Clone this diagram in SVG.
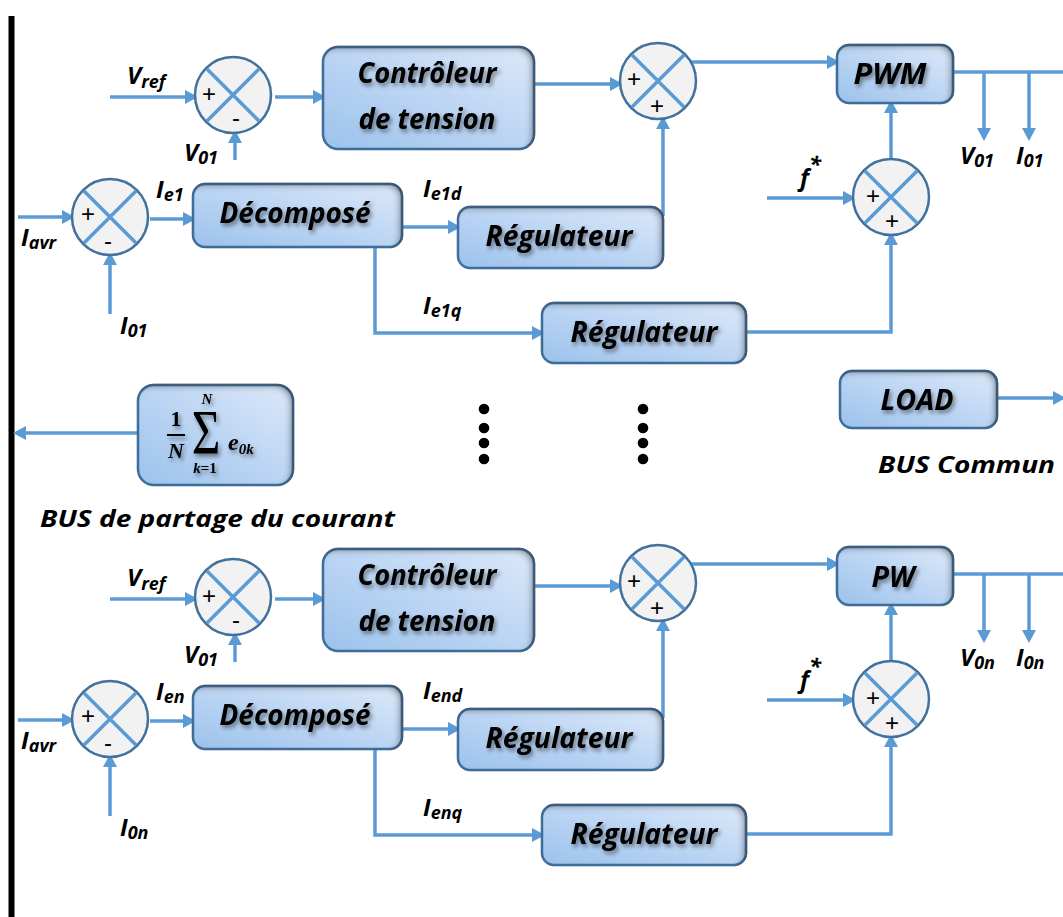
<svg xmlns="http://www.w3.org/2000/svg" xmlns:xlink="http://www.w3.org/1999/xlink" width="1063" height="917" viewBox="0 0 1063 917">
  <style>
    .wire { fill: none; stroke: #5b9bd5; stroke-width: 3.5; }
    .arr { marker-end: url(#head); }
    .blk { fill: url(#blkFill); stroke: #41719c; stroke-width: 2.5; filter: url(#inner); }
    .btxt { font-family: "Open Sans", Lato, "Liberation Sans", sans-serif; font-weight: bold; font-style: italic; font-size: 28px; fill: #000; text-anchor: middle; filter: url(#tshadow); }
    .lbl { font-family: "Open Sans", Lato, "Liberation Sans", sans-serif; font-weight: bold; font-style: italic; font-size: 24px; fill: #000; }
    .sub { font-size: 18px; }
    .sign { font-family: "Liberation Sans", Arial, sans-serif; font-size: 24px; fill: #000; text-anchor: middle; dominant-baseline: central; }
    .math { font-family: "Liberation Serif", "DejaVu Serif", serif; font-weight: bold; fill: #000; }
    .dot { fill: #000; }
  </style>
  <defs>
    <marker id="head" markerUnits="userSpaceOnUse" markerWidth="14" markerHeight="14" refX="10" refY="7" orient="auto">
      <path d="M0,0 L13,7 L0,14 Z" fill="#5b9bd5"/>
    </marker>
    <linearGradient id="blkFill" x1="0" y1="1" x2="1" y2="0">
      <stop offset="0" stop-color="#9cc2ec"/>
      <stop offset="0.55" stop-color="#bfd7f4"/>
      <stop offset="1" stop-color="#dce9f9"/>
    </linearGradient>
    <filter id="inner" x="-15%" y="-30%" width="130%" height="160%">
      <feComponentTransfer in="SourceAlpha" result="inv">
        <feFuncA type="table" tableValues="1 0"/>
      </feComponentTransfer>
      <feGaussianBlur in="inv" stdDeviation="3"/>
      <feOffset dx="-4" dy="3" result="sh"/>
      <feFlood flood-color="#3c4656" flood-opacity="0.75"/>
      <feComposite in2="sh" operator="in"/>
      <feComposite in2="SourceAlpha" operator="in" result="innerSh"/>
      <feMerge>
        <feMergeNode in="SourceGraphic"/>
        <feMergeNode in="innerSh"/>
      </feMerge>
    </filter>
    <filter id="tshadow" x="-20%" y="-40%" width="140%" height="180%">
      <feGaussianBlur in="SourceAlpha" stdDeviation="2.2"/>
      <feOffset dx="2" dy="3" result="b"/>
      <feFlood flood-color="#000" flood-opacity="0.45"/>
      <feComposite in2="b" operator="in"/>
      <feMerge>
        <feMergeNode/>
        <feMergeNode in="SourceGraphic"/>
      </feMerge>
    </filter>
    <!-- summing junction: circle with a cross -->
    <g id="sumx">
      <circle r="38" fill="#f2f2f2" stroke="#41719c" stroke-width="2.5"/>
      <path d="M-26,-26 L26,26 M26,-26 L-26,26" stroke="#5b9bd5" stroke-width="3.5"/>
    </g>
  </defs>

  <!-- current-sharing bus -->
  <rect id="bus" x="8.5" y="16" width="6" height="901" fill="#000"/>

  <!-- connectors -->
  <g id="connectors">
    <g id="links-1">
      <path class="wire arr" d="M110,97 H195"/>
      <path class="wire arr" d="M235,160 V133"/>
      <path class="wire arr" d="M275,97 H323"/>
      <path class="wire arr" d="M534,84 H620"/>
      <path class="wire arr" d="M691,62 H837"/>
      <path class="wire" d="M953,72 H1063"/>
      <path class="wire arr" d="M984,72 V138"/>
      <path class="wire arr" d="M1029,72 V138"/>
      <path class="wire arr" d="M767,198 H853"/>
      <path class="wire arr" d="M891,159 V103"/>
      <path class="wire arr" d="M746,332 H891 V235"/>
      <path class="wire arr" d="M663,216 V119"/>
      <path class="wire arr" d="M18,217 H72"/>
      <path class="wire arr" d="M110,314 V255"/>
      <path class="wire arr" d="M150,219 H193"/>
      <path class="wire arr" d="M402,227 H458"/>
      <path class="wire arr" d="M375,247 V333 H542"/>
    </g>
    <g id="links-shared">
      <path class="wire arr" d="M138,433 H16"/>
      <path class="wire arr" d="M997,398 H1063"/>
    </g>
    <g id="links-n" transform="translate(0,502)">
      <path class="wire arr" d="M110,97 H195"/>
      <path class="wire arr" d="M235,160 V133"/>
      <path class="wire arr" d="M275,97 H323"/>
      <path class="wire arr" d="M534,84 H620"/>
      <path class="wire arr" d="M691,62 H837"/>
      <path class="wire" d="M953,72 H1063"/>
      <path class="wire arr" d="M984,72 V138"/>
      <path class="wire arr" d="M1029,72 V138"/>
      <path class="wire arr" d="M767,198 H853"/>
      <path class="wire arr" d="M891,159 V103"/>
      <path class="wire arr" d="M746,332 H891 V235"/>
      <path class="wire arr" d="M663,216 V119"/>
      <path class="wire arr" d="M18,218 H72"/>
      <path class="wire arr" d="M110,314 V255"/>
      <path class="wire arr" d="M150,219 H193"/>
      <path class="wire arr" d="M402,227 H458"/>
      <path class="wire arr" d="M375,247 V333 H542"/>
    </g>
  </g>

  <!-- converter 1 -->
  <g id="sum-v1" transform="translate(233,95)">
    <use href="#sumx"/>
    <text class="sign" x="-24" y="-2">+</text>
    <text class="sign" x="3" y="22">-</text>
  </g>
  <g id="ctrl-1">
    <rect class="blk" x="323" y="47" width="211" height="102" rx="15"/>
    <text class="btxt" x="427" y="83" textLength="139" lengthAdjust="spacingAndGlyphs">Contrôleur</text>
    <text class="btxt" x="427" y="129" textLength="137" lengthAdjust="spacingAndGlyphs">de tension</text>
  </g>
  <g id="sum-d1" transform="translate(658,81)">
    <use href="#sumx"/>
    <text class="sign" x="-24" y="-3">+</text>
    <text class="sign" x="-1" y="24">+</text>
  </g>
  <g id="pwm-1">
    <rect class="blk" x="837" y="45" width="116" height="58" rx="12"/>
    <text class="btxt" x="890" y="84" textLength="73" lengthAdjust="spacingAndGlyphs">PWM</text>
  </g>
  <g id="sum-f1" transform="translate(891,197)">
    <use href="#sumx"/>
    <text class="sign" x="-18" y="-2">+</text>
    <text class="sign" x="1" y="23">+</text>
  </g>
  <g id="sum-i1" transform="translate(110,217)">
    <use href="#sumx"/>
    <text class="sign" x="-22" y="-4">+</text>
    <text class="sign" x="-2" y="23">-</text>
  </g>
  <g id="dec-1">
    <rect class="blk" x="193" y="184" width="209" height="63" rx="12"/>
    <text class="btxt" x="295" y="223" textLength="151" lengthAdjust="spacingAndGlyphs">Décomposé</text>
  </g>
  <g id="reg-d1">
    <rect class="blk" x="458" y="207" width="205" height="61" rx="12"/>
    <text class="btxt" x="559" y="246" textLength="147" lengthAdjust="spacingAndGlyphs">Régulateur</text>
  </g>
  <g id="reg-q1">
    <rect class="blk" x="542" y="303" width="204" height="60" rx="12"/>
    <text class="btxt" x="644" y="342" textLength="147" lengthAdjust="spacingAndGlyphs">Régulateur</text>
  </g>

  <!-- shared elements -->
  <g id="average">
    <rect class="blk" x="138" y="385" width="155" height="100" rx="16"/>
    <g filter="url(#tshadow)">
      <text class="math" x="176" y="426" font-size="22" text-anchor="middle">1</text>
      <rect x="167" y="434" width="18" height="2" fill="#000"/>
      <text class="math" x="176" y="458" font-size="22" font-style="italic" text-anchor="middle">N</text>
      <text class="math" x="207" y="404" font-size="15" font-style="italic" text-anchor="middle">N</text>
      <text class="math" style="font-weight:normal" font-size="60" text-anchor="middle" transform="translate(206,454) scale(0.82,1.05)">Σ</text>
      <text class="math" x="205" y="473" font-size="15" text-anchor="middle"><tspan font-style="italic">k</tspan>=1</text>
      <text class="math" x="228" y="450" font-size="24" font-style="italic">e<tspan font-size="15" dy="4">0<tspan font-style="italic">k</tspan></tspan></text>
    </g>
  </g>
  <g id="load">
    <rect class="blk" x="840" y="371" width="157" height="57" rx="12"/>
    <text class="btxt" x="917" y="410" textLength="73" lengthAdjust="spacingAndGlyphs">LOAD</text>
  </g>
  <g id="ellipsis">
    <circle class="dot" cx="484" cy="409" r="5.3"/>
    <circle class="dot" cx="484" cy="428" r="5.3"/>
    <circle class="dot" cx="484" cy="443" r="5.3"/>
    <circle class="dot" cx="484" cy="459" r="5.3"/>
    <circle class="dot" cx="643" cy="409" r="5.3"/>
    <circle class="dot" cx="643" cy="428" r="5.3"/>
    <circle class="dot" cx="643" cy="443" r="5.3"/>
    <circle class="dot" cx="643" cy="459" r="5.3"/>
  </g>

  <!-- converter n -->
  <g id="converter-n" transform="translate(0,502)">
    <g id="sum-vn" transform="translate(233,95)">
      <use href="#sumx"/>
      <text class="sign" x="-24" y="-2">+</text>
      <text class="sign" x="3" y="22">-</text>
    </g>
    <g id="ctrl-n">
      <rect class="blk" x="323" y="47" width="211" height="102" rx="15"/>
      <text class="btxt" x="427" y="83" textLength="139" lengthAdjust="spacingAndGlyphs">Contrôleur</text>
      <text class="btxt" x="427" y="129" textLength="137" lengthAdjust="spacingAndGlyphs">de tension</text>
    </g>
    <g id="sum-dn" transform="translate(658,81)">
      <use href="#sumx"/>
      <text class="sign" x="-24" y="-3">+</text>
      <text class="sign" x="-1" y="24">+</text>
    </g>
    <g id="pwm-n">
      <rect class="blk" x="837" y="45" width="116" height="58" rx="12"/>
      <text class="btxt" x="893" y="85" textLength="43" lengthAdjust="spacingAndGlyphs">PW</text>
    </g>
    <g id="sum-fn" transform="translate(891,197)">
      <use href="#sumx"/>
      <text class="sign" x="-18" y="-2">+</text>
      <text class="sign" x="1" y="23">+</text>
    </g>
    <g id="sum-in" transform="translate(110,217)">
      <use href="#sumx"/>
      <text class="sign" x="-22" y="-4">+</text>
      <text class="sign" x="-2" y="23">-</text>
    </g>
    <g id="dec-n">
      <rect class="blk" x="193" y="184" width="209" height="63" rx="12"/>
      <text class="btxt" x="295" y="223" textLength="151" lengthAdjust="spacingAndGlyphs">Décomposé</text>
    </g>
    <g id="reg-dn">
      <rect class="blk" x="458" y="207" width="205" height="61" rx="12"/>
      <text class="btxt" x="559" y="246" textLength="147" lengthAdjust="spacingAndGlyphs">Régulateur</text>
    </g>
    <g id="reg-qn">
      <rect class="blk" x="542" y="303" width="204" height="60" rx="12"/>
      <text class="btxt" x="644" y="342" textLength="147" lengthAdjust="spacingAndGlyphs">Régulateur</text>
    </g>
  </g>

  <!-- signal labels -->
  <g id="labels">
    <text class="lbl" x="127" y="84">V<tspan class="sub" dy="4">ref</tspan></text>
    <text class="lbl" x="184" y="161">V<tspan class="sub" dy="3">01</tspan></text>
    <text class="lbl" x="21" y="246">I<tspan class="sub" dy="3">avr</tspan></text>
    <text class="lbl" x="120" y="334">I<tspan class="sub" dy="3">01</tspan></text>
    <text class="lbl" x="156" y="198">I<tspan class="sub" dy="3">e1</tspan></text>
    <text class="lbl" x="423" y="197">I<tspan class="sub" dy="3">e1d</tspan></text>
    <text class="lbl" x="423" y="314">I<tspan class="sub" dy="3">e1q</tspan></text>
    <text class="lbl" x="800" y="186" font-size="34">f<tspan font-size="22" dy="-14">*</tspan></text>
    <text class="lbl" x="960" y="164">V<tspan class="sub" dy="3">01</tspan></text>
    <text class="lbl" x="1016" y="164">I<tspan class="sub" dy="3">01</tspan></text>

    <text class="lbl" x="40" y="527" textLength="355" lengthAdjust="spacingAndGlyphs">BUS de partage du courant</text>
    <text class="lbl" x="878" y="473" textLength="177" lengthAdjust="spacingAndGlyphs">BUS Commun</text>

    <text class="lbl" x="127" y="586">V<tspan class="sub" dy="4">ref</tspan></text>
    <text class="lbl" x="184" y="663">V<tspan class="sub" dy="3">01</tspan></text>
    <text class="lbl" x="21" y="749">I<tspan class="sub" dy="3">avr</tspan></text>
    <text class="lbl" x="120" y="836">I<tspan class="sub" dy="3">0n</tspan></text>
    <text class="lbl" x="156" y="700">I<tspan class="sub" dy="3">en</tspan></text>
    <text class="lbl" x="423" y="699">I<tspan class="sub" dy="3">end</tspan></text>
    <text class="lbl" x="423" y="816">I<tspan class="sub" dy="3">enq</tspan></text>
    <text class="lbl" x="800" y="688" font-size="34">f<tspan font-size="22" dy="-14">*</tspan></text>
    <text class="lbl" x="960" y="666">V<tspan class="sub" dy="3">0n</tspan></text>
    <text class="lbl" x="1016" y="666">I<tspan class="sub" dy="3">0n</tspan></text>
  </g>
</svg>
